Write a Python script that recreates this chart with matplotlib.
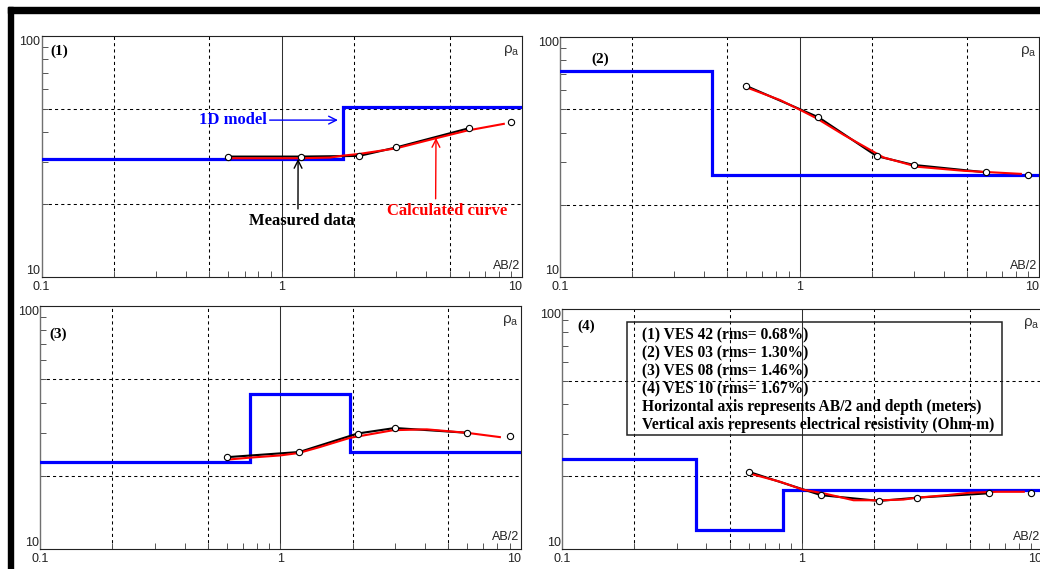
import matplotlib
matplotlib.use('Agg')
import matplotlib.pyplot as plt
from matplotlib.patches import Rectangle

# ---------------- data ----------------
ab2 = [0.6, 1.2, 2.1, 3.0, 6.0, 9.0]

meas1 = [31.6, 31.6, 31.8, 34.5, 41.4, 44.0]
meas2 = [62.5, 46.3, 31.9, 29.3, 27.3, 26.7]
meas3 = [23.8, 25.0, 29.8, 31.4, 30.0, 29.0]
meas4 = [20.9, 16.7, 15.8, 16.3, 17.0, 17.06]

calc1_x = [0.6, 1.19, 1.59, 1.80, 2.10, 3.0, 4.27, 5.9, 8.4]
calc1_y = [31.1, 31.1, 31.3, 31.9, 32.4, 34.2, 37.4, 40.5, 43.2]
calc2_x = [0.6, 0.83, 1.01, 1.18, 1.53, 1.98, 2.24, 3.1, 4.85, 8.4]
calc2_y = [61.7, 54.6, 49.6, 45.8, 39.1, 33.8, 31.5, 28.8, 27.7, 26.9]
calc3_x = [0.6, 0.75, 1.0, 1.19, 1.46, 1.95, 2.95, 4.07, 5.97, 8.2]
calc3_y = [23.25, 23.7, 24.2, 24.75, 26.2, 28.6, 30.75, 31.0, 30.0, 28.8]
calc4_x = [0.6, 0.81, 1.01, 1.23, 1.64, 2.11, 2.64, 3.01, 4.01, 5.01, 6.47, 8.4]
calc4_y = [20.6, 19.0, 17.6, 17.0, 15.9, 15.9, 16.0, 16.3, 16.7, 17.1, 17.25, 17.25]

model1_rho = [31.0, 50.6]
model1_depth = [1.8]
model2_rho = [72.4, 26.6]
model2_depth = [0.43]
model3_rho = [22.8, 43.5, 25.0]
model3_depth = [0.75, 1.95]
model4_rho = [23.6, 11.9, 17.5]
model4_depth = [0.36, 0.835]

panel_labels = ["(1)", "(2)", "(3)", "(4)"]
xtick_vals = [0.1, 1, 10]
xtick_labels = ["0.1", "1", "10"]
ytick_vals = [10, 100]
ytick_labels = ["10", "100"]
grid_x = [0.2, 0.5, 2, 5]
grid_y = [20, 50]

legend_lines = [
    "(1) VES 42 (rms= 0.68%)",
    "(2) VES 03 (rms= 1.30%)",
    "(3) VES 08 (rms= 1.46%)",
    "(4) VES 10 (rms= 1.67%)",
    "Horizontal axis represents AB/2 and depth (meters)",
    "Vertical axis represents electrical resistivity (Ohm-m)",
]

SERIF = 'Liberation Serif'
SANS = 'Liberation Sans'
W, H = 1040, 569

fig = plt.figure(figsize=(W / 100, H / 100), dpi=100)
fig.patch.set_facecolor('white')


def px_axes(left, right, top, bottom):
    return fig.add_axes([left / W, (H - bottom) / H, (right - left) / W, (bottom - top) / H])


# black frame pieces (top and left)
fig.add_artist(Rectangle((7.5 / W, (H - 13) / H), 1 - 7.5 / W, 6 / H,
                         transform=fig.transFigure, color='black', zorder=0))
fig.add_artist(Rectangle((7.5 / W, 0), 5 / W, (H - 7) / H,
                         transform=fig.transFigure, color='black', zorder=0))

axes = [
    px_axes(41.5, 522, 36, 277),
    px_axes(560, 1039, 37, 277),
    px_axes(40, 520.6, 306, 548.5),
    px_axes(562, 1042, 309, 548.5),
]

panels = [
    (meas1, calc1_x, calc1_y, model1_rho, model1_depth),
    (meas2, calc2_x, calc2_y, model2_rho, model2_depth),
    (meas3, calc3_x, calc3_y, model3_rho, model3_depth),
    (meas4, calc4_x, calc4_y, model4_rho, model4_depth),
]

label_pos = [(0.0177, 0.938), (0.0647, 0.908), (0.0187, 0.8845), (0.031, 0.929)]

for i, (ax, (meas, cx, cy, rho, depth)) in enumerate(zip(axes, panels)):
    ax.set_xscale('log')
    ax.set_yscale('log')
    ax.set_xlim(0.1, 10)
    ax.set_ylim(10, 100)
    ax.set_facecolor('white')
    for s in ['top', 'right', 'bottom']:
        ax.spines[s].set_color('#222222')
        ax.spines[s].set_linewidth(0.8)
    ax.spines['left'].set_color('#707070')
    ax.spines['left'].set_linewidth(1.0)

    for g in grid_x:
        ax.axvline(g, color='black', lw=0.75, ls=(0, (3, 3)), zorder=1)
    ax.axvline(1, color='#303030', lw=0.75, zorder=1)
    for g in grid_y:
        ax.axhline(g, color='black', lw=0.75, ls=(0, (3, 3)), zorder=1)

    ax.tick_params(which='both', direction='in', top=False, right=False,
                   labelbottom=False, labelleft=False, length=4, width=0.7, color='#555555')

    edges = [0.05] + depth + [20]
    vals = rho + [rho[-1]]
    ax.step(edges, vals, where='post', color='#0000ff', lw=2.3, zorder=3,
            solid_joinstyle='miter')
    ax.plot(ab2[:-1], meas[:-1], color='black', lw=1.5, zorder=4)
    ax.plot(cx, cy, color='#ff0000', lw=1.5, zorder=5)
    ax.plot(ab2, meas, 'o', mfc='white', mec='black', ms=4.5, mew=0.8, zorder=6)

    # tick labels
    for v, t in zip(xtick_vals, xtick_labels):
        ha = 'right' if v == xtick_vals[-1] else 'center'
        ax.annotate(t, xy=(v, 0), xycoords=('data', 'axes fraction'),
                    xytext=(0, -3), textcoords='offset points', ha=ha, va='top',
                    fontsize=9, family=SANS, color='#222222', annotation_clip=False)
    for v, t in zip(ytick_vals, ytick_labels):
        va = 'top' if v == ytick_vals[-1] else 'bottom'
        ax.annotate(t, xy=(0, v), xycoords=('axes fraction', 'data'),
                    xytext=(-1, 0), textcoords='offset points', ha='right', va=va,
                    fontsize=9, family=SANS, color='#222222', annotation_clip=False)

    ax.annotate(r'$\mathregular{\rho_a}$', xy=(1, 1), xycoords='axes fraction',
                xytext=(-1.5, -10.5), textcoords='offset points', ha='right', va='center',
                fontsize=11, family=SANS, color='#333333', annotation_clip=False)
    ax.annotate('AB/2', xy=(1, 0), xycoords='axes fraction',
                xytext=(-1, 6), textcoords='offset points', ha='right', va='baseline',
                fontsize=9, family=SANS, color='#222222', annotation_clip=False)

    ax.text(label_pos[i][0], label_pos[i][1], panel_labels[i], transform=ax.transAxes,
            ha='left', va='center', fontsize=11, family=SERIF, fontweight='bold',
            color='black', zorder=7)

# ---- annotations on panel 1 ----
ax1 = axes[0]
ax1.annotate('1D model', xy=(0.617, 0.651), xycoords='axes fraction',
             xytext=(0.469, 0.651), textcoords='axes fraction', ha='right', va='center',
             fontsize=12, family=SERIF, fontweight='bold', color='#0000ff',
             arrowprops=dict(arrowstyle='->', color='#0000ff', lw=1.0, mutation_scale=14,
                             shrinkA=0, shrinkB=0, relpos=(1.0, 0.5)), zorder=8)
ax1.annotate('Measured data', xy=(0.534, 0.49), xycoords='axes fraction',
             xytext=(0.541, 0.232), textcoords='axes fraction', ha='center', va='center',
             fontsize=12, family=SERIF, fontweight='bold', color='black',
             arrowprops=dict(arrowstyle='->', color='black', lw=1.0, mutation_scale=14,
                             shrinkA=1, shrinkB=0, relpos=(0.467, 1.0)), zorder=8)
ax1.annotate('Calculated curve', xy=(0.821, 0.577), xycoords='axes fraction',
             xytext=(0.844, 0.274), textcoords='axes fraction', ha='center', va='center',
             fontsize=12, family=SERIF, fontweight='bold', color='#ff0000',
             arrowprops=dict(arrowstyle='->', color='#ff0000', lw=1.0, mutation_scale=14,
                             shrinkA=1, shrinkB=0, relpos=(0.405, 1.0)), zorder=8)

# ---- legend box on panel 4 ----
ax4 = axes[3]
ax4.add_patch(Rectangle((0.136, 0.474), 0.916 - 0.136, 0.9445 - 0.474,
                        transform=ax4.transAxes, fill=False, edgecolor='#222222',
                        lw=1.1, zorder=7))
for k, line in enumerate(legend_lines):
    ax4.text(0.166, 0.8885 - k * 0.0749, line, transform=ax4.transAxes,
             ha='left', va='center', fontsize=11.2, family=SERIF, fontweight='bold',
             color='black', zorder=8)

fig.savefig('out.png', dpi=100, facecolor='white')
